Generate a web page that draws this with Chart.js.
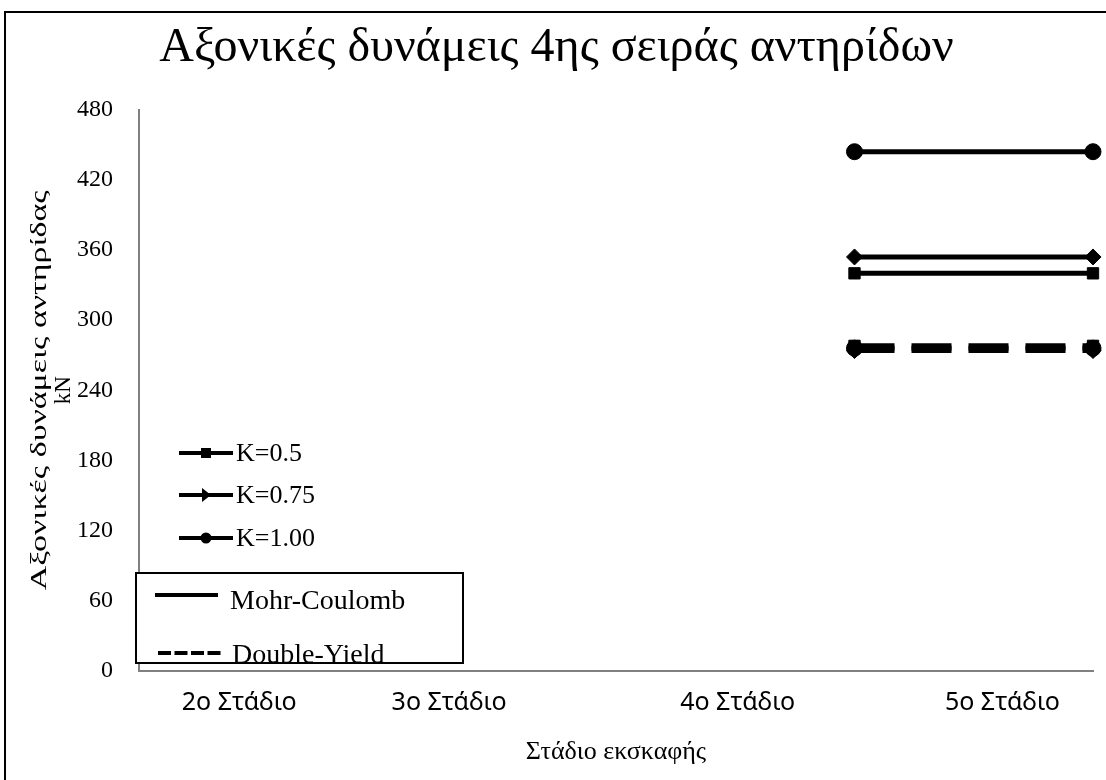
<!DOCTYPE html>
<html lang="el">
<head>
<meta charset="utf-8">
<title>Αξονικές δυνάμεις 4ης σειράς αντηρίδων</title>
<script src="https://cdn.jsdelivr.net/npm/chart.js@4/dist/chart.umd.min.js"></script>
<style>
  html, body { margin: 0; padding: 0; background: #fff; }
  #wrap { width: 1106px; height: 780px; }
</style>
</head>
<body>
<div id="wrap"><canvas id="chart" width="1106" height="780"></canvas></div>
<script>
// Στάδια εκσκαφής (άξονας x)
const STAGES = ["2ο Στάδιο", "3ο Στάδιο", "4ο Στάδιο", "5ο Στάδιο"];
const STAGE_TICKS = [0.42, 1.3, 2.51, 3.62]; // θέση ετικετών στον άξονα

// Άξονας y (kN)
const Y_MIN = 0;
const Y_MAX = 480;
const Y_STEP = 60;
const Y_TITLE = ["Αξονικές δυνάμεις αντηρίδας", "kN"];

// Θέσεις x των δύο σημείων κάθε σειράς
const POINT_X = [3, 4];

// Mohr-Coulomb
const MC_K050 = [340, 340];
const MC_K075 = [354, 354];
const MC_K100 = [444, 444];

// Double-Yield
const DY_K050 = [278, 278];
const DY_K075 = [274, 274];
const DY_K100 = [276, 276];

const SERIF = "'Liberation Serif', 'DejaVu Serif', serif";
const SANS = "'Noto Sans', 'Open Sans', sans-serif";

function toPoints(values) {
  return POINT_X.map((x, i) => ({ x: x, y: values[i] }));
}

// Δημιουργία σειράς δεδομένων
function makeSeries(label, values, style, dashed) {
  return {
    label: label,
    data: toPoints(values),
    borderColor: "#000",
    backgroundColor: "#000",
    borderWidth: 5,
    borderDash: dashed ? [40, 17] : [],
    borderCapStyle: "butt",
    pointStyle: style,
    pointRadius: 8,
    pointBackgroundColor: "#000",
    pointBorderColor: "#000",
    pointBorderWidth: 1,
    tension: 0,
    clip: false,
  };
}

// Πλαίσιο γύρω από το γράφημα
const framePlugin = {
  id: "frame",
  beforeDraw(chart) {
    const ctx = chart.ctx;
    ctx.save();
    ctx.fillStyle = "#fff";
    ctx.fillRect(0, 0, chart.width, chart.height);
    ctx.strokeStyle = "#000";
    ctx.lineWidth = 2;
    ctx.strokeRect(5, 12, chart.width + 20, chart.height + 20);
    ctx.restore();
  },
};

// Τίτλος άξονα y (τεντωμένος κατά μήκος, όπως στο αρχικό φύλλο)
const yTitlePlugin = {
  id: "yTitle",
  afterDraw(chart) {
    const ctx = chart.ctx;
    const area = chart.chartArea;
    const cy = (area.top + area.bottom) / 2;
    ctx.save();
    ctx.fillStyle = "#000";
    ctx.textAlign = "center";
    ctx.textBaseline = "middle";
    ctx.font = "23px " + SERIF;

    ctx.save();
    ctx.translate(40, cy);
    ctx.rotate(-Math.PI / 2);
    const w = ctx.measureText(Y_TITLE[0]).width;
    ctx.scale(400 / w, 1);
    ctx.fillText(Y_TITLE[0], 0, 0);
    ctx.restore();

    ctx.translate(64, cy);
    ctx.rotate(-Math.PI / 2);
    ctx.fillText(Y_TITLE[1], 0, 0);
    ctx.restore();
  },
};

function drawMarker(ctx, kind, x, y) {
  ctx.beginPath();
  if (kind === "rect") {
    ctx.rect(x - 5, y - 5, 10, 10);
  } else if (kind === "tri") {
    ctx.moveTo(x - 4, y - 7);
    ctx.lineTo(x + 5, y);
    ctx.lineTo(x - 4, y + 7);
    ctx.closePath();
  } else {
    ctx.arc(x, y, 5.5, 0, Math.PI * 2);
  }
  ctx.fill();
}

// Τα δύο υπομνήματα (τιμές K και καταστατικά προσομοιώματα)
const legendPlugin = {
  id: "customLegend",
  afterDraw(chart) {
    const ctx = chart.ctx;
    ctx.save();
    ctx.fillStyle = "#000";
    ctx.strokeStyle = "#000";
    ctx.textBaseline = "middle";
    ctx.textAlign = "left";

    const kItems = [
      { text: "K=0.5", marker: "rect", y: 453 },
      { text: "K=0.75", marker: "tri", y: 495 },
      { text: "K=1.00", marker: "circle", y: 538 },
    ];
    ctx.font = "26px " + SERIF;
    kItems.forEach((item) => {
      ctx.lineWidth = 4;
      ctx.beginPath();
      ctx.moveTo(179, item.y);
      ctx.lineTo(233, item.y);
      ctx.stroke();
      drawMarker(ctx, item.marker, 206, item.y);
      ctx.fillText(item.text, 236, item.y + 1);
    });

    // πλαίσιο δεύτερου υπομνήματος
    ctx.fillStyle = "#fff";
    ctx.fillRect(136, 573, 327, 90);
    ctx.lineWidth = 2;
    ctx.strokeRect(136, 573, 327, 90);

    ctx.fillStyle = "#000";
    ctx.font = "28px " + SERIF;
    ctx.lineWidth = 4;
    ctx.beginPath();
    ctx.moveTo(155, 595);
    ctx.lineTo(218, 595);
    ctx.stroke();
    ctx.fillText("Mohr-Coulomb", 230, 602);

    ctx.setLineDash([13, 3.5]);
    ctx.beginPath();
    ctx.moveTo(158, 653);
    ctx.lineTo(221, 653);
    ctx.stroke();
    ctx.setLineDash([]);
    ctx.fillText("Double-Yield", 232, 656);
    ctx.restore();
  },
};

const ctx = document.getElementById("chart").getContext("2d");
new Chart(ctx, {
  type: "line",
  data: {
    datasets: [
      makeSeries("Double-Yield K=0.5", DY_K050, "rect", true),
      makeSeries("Double-Yield K=0.75", DY_K075, "rectRot", true),
      makeSeries("Double-Yield K=1.00", DY_K100, "circle", true),
      makeSeries("Mohr-Coulomb K=0.5", MC_K050, "rect", false),
      makeSeries("Mohr-Coulomb K=0.75", MC_K075, "rectRot", false),
      makeSeries("Mohr-Coulomb K=1.00", MC_K100, "circle", false),
    ],
  },
  options: {
    responsive: false,
    animation: false,
    layout: {
      padding: { left: 20, right: 13, top: 0, bottom: 0 },
    },
    plugins: {
      legend: { display: false },
      tooltip: { enabled: false },
      title: {
        display: true,
        text: "Αξονικές δυνάμεις 4ης σειράς αντηρίδων",
        color: "#000",
        font: { family: SERIF, size: 48, weight: "normal", lineHeight: 1.2 },
        padding: { top: 20, bottom: 32 },
      },
    },
    scales: {
      x: {
        type: "linear",
        min: 0,
        max: 4,
        afterBuildTicks: (scale) => {
          scale.ticks = STAGE_TICKS.map((v) => ({ value: v }));
        },
        afterFit: (scale) => {
          scale.height = 109;
        },
        grid: { display: false, drawTicks: false },
        border: { display: true, color: "#808080", width: 2 },
        ticks: {
          autoSkip: false,
          maxRotation: 0,
          padding: 17,
          color: "#000",
          font: { family: SANS, size: 25 },
          callback: (value, index) => STAGES[index],
        },
        title: {
          display: true,
          text: "Στάδιο εκσκαφής",
          color: "#000",
          font: { family: SERIF, size: 26, lineHeight: 1.2 },
          padding: { top: 4, bottom: 12 },
        },
      },
      y: {
        min: Y_MIN,
        max: Y_MAX,
        afterFit: (scale) => {
          scale.width = 119;
        },
        grid: { display: false, drawTicks: false },
        border: { display: true, color: "#808080", width: 2 },
        ticks: {
          stepSize: Y_STEP,
          padding: 26,
          color: "#000",
          font: { family: SERIF, size: 24 },
        },
      },
    },
  },
  plugins: [framePlugin, yTitlePlugin, legendPlugin],
});
</script>
</body>
</html>
